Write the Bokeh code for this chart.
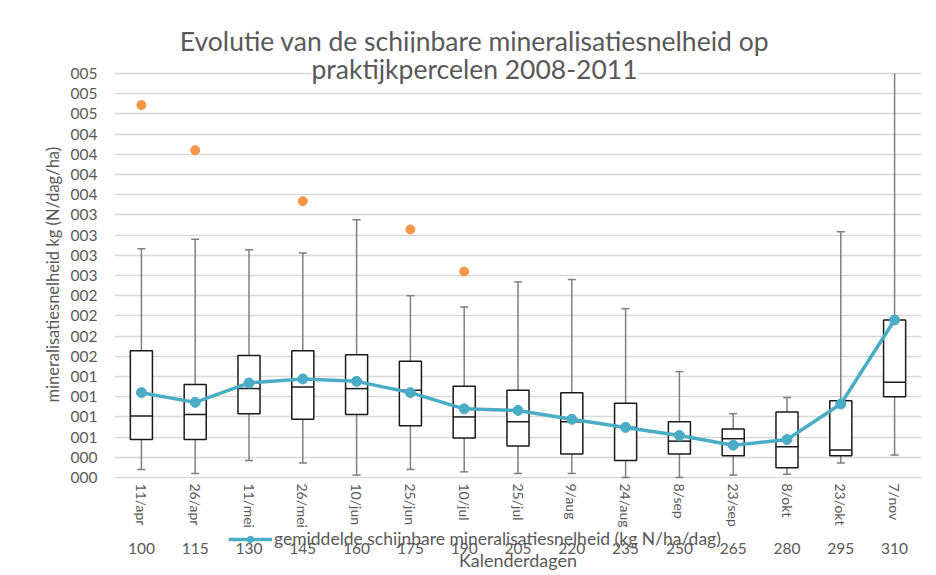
from bokeh.plotting import figure
from bokeh.models import (LinearAxis, FixedTicker, Grid, Legend, LegendItem, Title, Label,
                          Range1d, ColumnDataSource)
from bokeh.embed import file_html
from bokeh.resources import INLINE

# ---------------- data ----------------
categories = ["11/apr", "26/apr", "11/mei", "26/mei", "10/jun", "25/jun", "10/jul", "25/jul",
              "9/aug", "24/aug", "8/sep", "23/sep", "8/okt", "23/okt", "7/nov"]
days = ["100", "115", "130", "145", "160", "175", "190", "205", "220", "235", "250", "265",
        "280", "295", "310"]
whisker_high = [2.83, 2.95, 2.82, 2.78, 3.19, 2.25, 2.11, 2.42, 2.45, 2.09, 1.31, 0.79, 0.99, 3.04, 5.10]
q3 = [1.57, 1.15, 1.51, 1.57, 1.52, 1.44, 1.13, 1.08, 1.05, 0.92, 0.69, 0.60, 0.81, 0.95, 1.95]
median = [0.76, 0.78, 1.10, 1.12, 1.10, 1.08, 0.75, 0.69, 0.69, 0.62, 0.45, 0.48, 0.38, 0.34, 1.18]
q1 = [0.47, 0.47, 0.79, 0.72, 0.78, 0.64, 0.49, 0.39, 0.29, 0.21, 0.29, 0.27, 0.12, 0.27, 1.00]
whisker_low = [0.10, 0.05, 0.21, 0.18, 0.03, 0.10, 0.07, 0.05, 0.05, 0.00, 0.00, 0.03, 0.04, 0.18, 0.28]
mean = [1.05, 0.93, 1.17, 1.22, 1.19, 1.05, 0.85, 0.83, 0.72, 0.62, 0.52, 0.40, 0.47, 0.91, 1.95]
outlier_cat = [0, 1, 3, 5, 6]
outlier_val = [4.61, 4.05, 3.42, 3.07, 2.55]

y_ticks = [0, 0.25, 0.5, 0.75, 1.0, 1.25, 1.5, 1.75, 2.0, 2.25, 2.5, 2.75, 3.0, 3.25, 3.5,
           3.75, 4.0, 4.25, 4.5, 4.75, 5.0]
y_tick_labels = ["000", "000", "001", "001", "001", "001", "002", "002", "002", "002", "003",
                 "003", "003", "003", "004", "004", "004", "004", "005", "005", "005"]

title_line1 = "Evolutie van de schijnbare mineralisatiesnelheid op"
title_line2 = "praktijkpercelen 2008-2011"
y_title = "mineralisatiesnelheid kg (N/dag/ha)"
x_title = "Kalenderdagen"
legend_label = "gemiddelde schijnbare mineralisatiesnelheid (kg N/ha/dag)"

# ---------------- style / layout ----------------
FONT = "Lato"
TXT = "#595959"
GRID = "#d9d9d9"
MEAN_C = "#4bacc6"
OUT_C = "#f79646"
BOX_C = "#1a1a1a"
WHISK_C = "#7f7f7f"
BOX_W = 0.41
CAP_W = 0.15
Y_MAX = 5.0

W, H = 936, 575
FRAME_L, FRAME_R = 114, 921          # plot area, pixels
PX_TOP, PX_ZERO = 73, 477            # pixel rows of y = 5 and y = 0
ppu = (PX_ZERO - PX_TOP) / Y_MAX     # pixels per unit
y_hi = Y_MAX + PX_TOP / ppu          # frame covers the whole height
y_lo = -(H - PX_ZERO) / ppu

xs = list(range(len(categories)))
src = ColumnDataSource(dict(
    x=xs,
    xl=[x - BOX_W / 2 for x in xs], xr=[x + BOX_W / 2 for x in xs],
    hi=[min(v, Y_MAX) for v in whisker_high], q3=q3, med=median, q1=q1, lo=whisker_low,
    mean=mean,
))
cap_hi_idx = [i for i, v in enumerate(whisker_high) if v <= Y_MAX]
cap_src = ColumnDataSource(dict(
    cl=[xs[i] - CAP_W / 2 for i in cap_hi_idx], cr=[xs[i] + CAP_W / 2 for i in cap_hi_idx],
    y=[whisker_high[i] for i in cap_hi_idx]))
cap_lo_src = ColumnDataSource(dict(
    cl=[x - CAP_W / 2 for x in xs], cr=[x + CAP_W / 2 for x in xs], y=whisker_low))

p = figure(width=W, height=H, x_range=Range1d(-0.5, 14.5), y_range=Range1d(y_lo, y_hi),
           x_axis_type=None, y_axis_type=None, toolbar_location=None, output_backend="svg",
           min_border_left=FRAME_L, min_border_right=W - FRAME_R, min_border_top=0,
           min_border_bottom=0)
p.outline_line_color = None
p.background_fill_color = "white"
p.border_fill_color = "white"

yaxis = LinearAxis(
    ticker=FixedTicker(ticks=y_ticks),
    major_label_overrides={t: l for t, l in zip(y_ticks, y_tick_labels)},
    axis_line_color=None, major_tick_line_color=None,
    minor_tick_line_color=None, major_tick_out=0, major_tick_in=0,
    major_label_text_font=FONT, major_label_text_font_size="15.5px", major_label_text_color=TXT,
    major_label_standoff=17)
p.add_layout(yaxis, "left")
p.add_layout(Title(text=y_title, align="left", offset=H - 402, standoff=10,
                   text_font=FONT, text_font_size="16.5px", text_font_style="normal",
                   text_color=TXT), "left")
p.add_layout(Grid(dimension=1, ticker=yaxis.ticker, grid_line_color=GRID, grid_line_width=1.5), "center")

ax1 = LinearAxis(
    fixed_location=0,
    ticker=FixedTicker(ticks=xs),
    major_label_overrides={i: c for i, c in zip(xs, categories)},
    major_label_orientation="vertical",
    axis_line_color=None, major_tick_line_color=None,
    minor_tick_line_color=None, major_tick_out=0, major_tick_in=0, major_label_standoff=6,
    major_label_text_font=FONT, major_label_text_font_size="14px", major_label_text_color=TXT)
p.add_layout(ax1, "below")

ax2 = LinearAxis(
    fixed_location=0,
    ticker=FixedTicker(ticks=xs),
    major_label_overrides={i: d for i, d in zip(xs, days)},
    axis_label=x_title, axis_line_color=None, major_tick_line_color=None,
    minor_tick_line_color=None, major_tick_out=0, major_tick_in=0, major_label_standoff=65,
    axis_label_standoff=-8,
    major_label_text_font=FONT, major_label_text_font_size="15.5px", major_label_text_color=TXT,
    axis_label_text_font=FONT, axis_label_text_font_size="18px", axis_label_text_color=TXT,
    axis_label_text_font_style="normal")
p.add_layout(ax2, "below")

# whiskers and caps
p.segment(x0="x", y0="q3", x1="x", y1="hi", source=src, line_color=WHISK_C, line_width=1.5)
p.segment(x0="x", y0="q1", x1="x", y1="lo", source=src, line_color=WHISK_C, line_width=1.5)
p.segment(x0="cl", y0="y", x1="cr", y1="y", source=cap_src, line_color=WHISK_C, line_width=1.5)
p.segment(x0="cl", y0="y", x1="cr", y1="y", source=cap_lo_src, line_color=WHISK_C, line_width=1.5)
# boxes
p.vbar(x="x", width=BOX_W, top="q3", bottom="q1", source=src, fill_color="white",
       line_color=BOX_C, line_width=1.5)
p.segment(x0="xl", y0="med", x1="xr", y1="med", source=src, line_color=BOX_C, line_width=1.5)
# mean line
mean_line = p.line(x="x", y="mean", source=src, line_color=MEAN_C, line_width=3.5)
mean_pts = p.scatter(x="x", y="mean", source=src, size=10, fill_color=MEAN_C, line_color=MEAN_C)
# outliers
p.scatter(x=outlier_cat, y=outlier_val, size=9, fill_color=OUT_C, line_color=OUT_C)

legend = Legend(items=[LegendItem(label=legend_label, renderers=[mean_line, mean_pts])],
                location=(228 - FRAME_L, H - 549), border_line_color=None,
                background_fill_alpha=0, padding=0, margin=0, glyph_width=44, glyph_height=16,
                label_standoff=2, label_text_font=FONT, label_text_font_size="17.5px",
                label_text_color=TXT)
p.add_layout(legend, "center")

for txt, yy, bg in ((title_line1, 40, None), (title_line2, 68, "white")):
    p.add_layout(Label(x=474 - FRAME_L, y=H - yy, x_units="screen", y_units="screen", text=txt,
                       text_align="center", text_baseline="middle", text_font=FONT,
                       text_font_size="26.5px", text_color=TXT, background_fill_color=bg))

open("out.html", "w").write(file_html(p, INLINE))
